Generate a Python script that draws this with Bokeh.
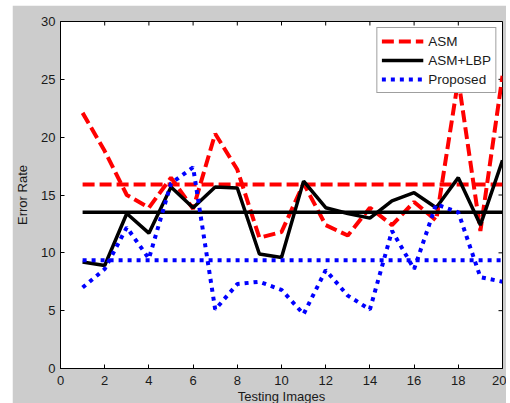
import math
from bokeh.plotting import figure
from bokeh.models import Range1d, FixedTicker, Legend, LegendItem
from bokeh.embed import file_html
from bokeh.resources import INLINE

# ---- data ----
images = [1, 2, 3, 4, 5, 6, 7, 8, 9, 10, 11, 12, 13, 14, 15, 16, 17, 18, 19, 20]
asm = [22.1, 18.8, 15.0, 13.9, 16.5, 13.8, 20.3, 17.2, 11.3, 11.8,
       16.0, 12.4, 11.5, 13.9, 12.4, 14.4, 12.8, 25.0, 11.9, 25.3]
asm_lbp = [9.2, 8.9, 13.4, 11.7, 15.7, 13.9, 15.7, 15.6, 9.9, 9.6,
           16.2, 13.9, 13.4, 13.0, 14.5, 15.2, 13.9, 16.5, 12.4, 18.0]
proposed = [7.0, 8.6, 12.2, 9.5, 16.0, 17.4, 5.1, 7.3, 7.5, 6.8,
            4.7, 8.5, 6.3, 5.1, 11.9, 8.6, 14.2, 13.5, 7.9, 7.5]
asm_mean = 15.9
asm_lbp_mean = 13.5
proposed_mean = 9.35
series_names = ["ASM", "ASM+LBP", "Proposed"]
x_ticks = [0, 2, 4, 6, 8, 10, 12, 14, 16, 18, 20]
y_ticks = [0, 5, 10, 15, 20, 25, 30]
x_label = "Testing Images"
y_label = "Error Rate"

FONT = "Liberation Sans"
GRAY = "#cccccc"
X_MIN, X_MAX = x_ticks[0], x_ticks[-1]
Y_MIN, Y_MAX = y_ticks[0], y_ticks[-1]

p = figure(frame_width=442, frame_height=347,
           x_range=Range1d(X_MIN, X_MAX), y_range=Range1d(Y_MIN, Y_MAX),
           output_backend="svg", toolbar_location=None,
           min_border_left=46, min_border_right=4,
           min_border_top=16, min_border_bottom=30,
           background_fill_color="white", border_fill_color=GRAY,
           margin=(5, 0, 0, 12))
p.xgrid.visible = False
p.ygrid.visible = False
p.outline_line_color = "black"
p.outline_line_width = 1

def style_axis(ax, ticks):
    ax.ticker = FixedTicker(ticks=ticks)
    ax.major_tick_in = 4
    ax.major_tick_out = 0
    ax.minor_tick_in = 0
    ax.minor_tick_out = 0
    ax.axis_line_color = "black"
    ax.major_tick_line_color = "black"
    ax.major_label_text_font = FONT
    ax.major_label_text_font_size = "13px"
    ax.major_label_text_color = "#1a1a1a"
    ax.axis_label_text_font = FONT
    ax.axis_label_text_font_style = "normal"
    ax.axis_label_text_color = "#1a1a1a"
    ax.axis_label_text_font_size = "13px"

style_axis(p.xaxis[0], x_ticks)
style_axis(p.yaxis[0], y_ticks)
p.xaxis[0].axis_label = x_label
p.xaxis[0].major_label_standoff = 7
p.xaxis[0].axis_label_standoff = 1
p.yaxis[0].axis_label = y_label
p.yaxis[0].major_label_standoff = 5
p.yaxis[0].axis_label_standoff = 8

# mirrored inward ticks on the top and right edges of the box
p.ray(x=x_ticks, y=[Y_MAX] * len(x_ticks), length=4, length_units="screen",
      angle=-math.pi / 2, line_color="black", line_width=1)
p.ray(x=[X_MAX] * len(y_ticks), y=y_ticks, length=4, length_units="screen",
      angle=math.pi, line_color="black", line_width=1)

# ---- lines ----
r_asm = p.line(images, asm, line_color="#ff0000", line_width=4, line_dash="12 5")
p.line(images, [asm_mean] * len(images), line_color="#ff0000", line_width=4, line_dash="12 5")
r_lbp = p.line(images, asm_lbp, line_color="black", line_width=3.5)
p.line(images, [asm_lbp_mean] * len(images), line_color="black", line_width=3.5)
r_prop = p.line(images, proposed, line_color="#0000ff", line_width=4, line_dash="4 5")
p.line(images, [proposed_mean] * len(images), line_color="#0000ff", line_width=4, line_dash="4 5")

legend = Legend(items=[LegendItem(label=series_names[0], renderers=[r_asm]),
                       LegendItem(label=series_names[1], renderers=[r_lbp]),
                       LegendItem(label=series_names[2], renderers=[r_prop])],
                location="top_right")
legend.margin = 6
legend.padding = 4
legend.spacing = 1
legend.glyph_width = 42
legend.glyph_height = 18
legend.label_height = 18
legend.label_standoff = 5
legend.label_text_font = FONT
legend.label_text_font_size = "13.5px"
legend.label_text_color = "#1a1a1a"
legend.border_line_color = "#404040"
legend.border_line_width = 1
legend.background_fill_color = "white"
legend.background_fill_alpha = 1
p.add_layout(legend, "center")

open("out.html", "w").write(file_html(p, INLINE))
